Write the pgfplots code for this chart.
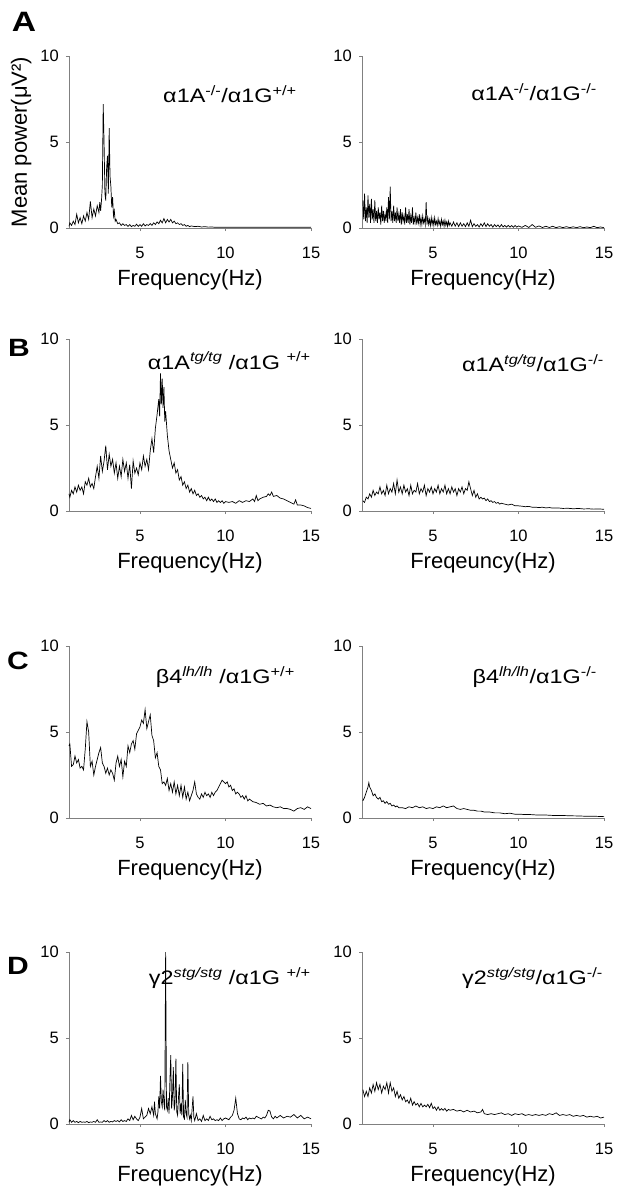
\documentclass[border=0pt]{standalone}
\usepackage{fontspec}
\setmainfont{Liberation Sans}
\newfontfamily\widefont{Liberation Sans}[FakeStretch=1.2]
\usepackage{pgfplots}
\pgfplotsset{compat=1.18}
\definecolor{axgray}{gray}{0.5}
\pgfplotsset{panel/.style={
  scale only axis, width=242pt, height=172pt,
  xmin=0.85, xmax=15, ymin=0, ymax=10,
  axis lines=left, axis line style={-, draw=axgray, line width=0.7pt},
  xtick={5,10,15}, ytick={0,5,10},
  tick align=outside, major tick length=3pt, tick style={draw=axgray, line width=0.6pt},
  /pgf/number format/assume math mode=true,
  tick label style={font=\fontsize{16.5}{17}\selectfont, text=black},
  xticklabel style={anchor=base, inner sep=0pt},
  xticklabel shift=27pt,
  yticklabel style={anchor=east, inner sep=0pt, xshift=-7pt},
  xlabel style={at={(axis description cs:0.5,0)}, anchor=base, yshift=-57pt, font=\fontsize{22}{24}\selectfont, inner sep=0pt},
  xlabel={Frequency(Hz)},
  clip=false,
  every axis plot post/.append style={black, line width=0.7pt, mark=none},
}}
\tikzset{ttl/.style={anchor=east, inner sep=0pt, font=\widefont\fontsize{19.5}{22}\selectfont},
lett/.style={inner sep=0pt, font=\widefont\bfseries\fontsize{25}{28}\selectfont}}
\begin{document}
\begin{tikzpicture}
\useasboundingbox (0,0) rectangle (620pt,-1200pt);
% ---------------- A left
\begin{axis}[panel, at={(69pt,-228pt)}, anchor=south west]
\addplot table {
0.85 0.1
0.9 0.3
1.0 0.15
1.1 0.4
1.2 0.2
1.3 0.8
1.4 0.3
1.5 0.6
1.6 0.25
1.7 0.7
1.8 0.4
1.9 0.9
2.0 0.5
2.1 1.55
2.2 0.6
2.3 1.1
2.4 0.7
2.5 1.3
2.6 0.9
2.65 1.5
2.7 1.0
2.75 1.6
2.8 2.5
2.85 7.2
2.9 5.0
2.95 2.0
3.0 1.6
3.05 3.5
3.1 4.2
3.15 2.0
3.2 5.8
3.25 3.0
3.3 2.4
3.35 1.2
3.4 1.8
3.45 0.7
3.5 1.0
3.55 0.4
3.6 0.5
3.7 0.25
3.8 0.3
3.9 0.15
4.0 0.25
4.1 0.15
4.2 0.2
4.3 0.1
4.4 0.2
4.5 0.08
4.6 0.15
4.7 0.1
4.8 0.22
4.9 0.1
5.0 0.2
5.1 0.1
5.2 0.25
5.3 0.12
5.4 0.2
5.5 0.15
5.6 0.25
5.7 0.15
5.8 0.3
5.9 0.2
6.0 0.35
6.1 0.25
6.2 0.45
6.3 0.3
6.4 0.55
6.5 0.3
6.6 0.5
6.7 0.35
6.8 0.5
6.9 0.3
7.0 0.4
7.1 0.25
7.2 0.3
7.3 0.2
7.4 0.25
7.5 0.15
7.6 0.2
7.7 0.1
7.8 0.15
7.9 0.08
8.0 0.12
8.2 0.08
8.4 0.1
8.6 0.06
8.8 0.08
9.0 0.05
9.2 0.06
9.4 0.04
9.6 0.05
9.8 0.04
10.0 0.05
10.4 0.04
10.8 0.05
11.2 0.04
11.6 0.05
12.0 0.04
12.4 0.05
12.8 0.04
13.2 0.05
13.6 0.04
14.0 0.05
14.4 0.04
14.8 0.05
15.0 0.04
};
\node[ttl] at (rel axis cs:0.942,0.779) {α1A\textsuperscript{-/-}/α1G\textsuperscript{+/+}};
\node[lett, font=\widefont\bfseries\fontsize{28}{30}\selectfont] at (rel axis cs:-0.186,1.198) {A};
\node[rotate=90, inner sep=0pt, font=\fontsize{22}{24}\selectfont] at (rel axis cs:-0.198,0.5) {Mean power(μV²)};
\end{axis}
% ---------------- A right
\begin{axis}[panel, at={(362pt,-228pt)}, anchor=south west]
\addplot table {
0.90 1.6
0.95 0.5
1.00 2.0
1.05 0.4
1.10 1.2
1.15 0.3
1.20 1.9
1.25 0.6
1.30 1.4
1.35 0.3
1.40 1.7
1.45 0.5
1.50 1.1
1.55 0.3
1.60 1.6
1.65 0.4
1.70 1.0
1.75 0.3
1.80 1.2
1.85 0.5
1.90 0.9
1.95 0.2
2.00 1.3
2.05 0.4
2.10 1.0
2.15 0.3
2.20 0.8
2.25 0.4
2.30 1.2
2.35 0.3
2.40 1.8
2.45 0.5
2.50 2.4
2.55 0.4
2.60 1.0
2.65 0.3
2.70 1.3
2.75 0.4
2.80 0.9
2.85 0.3
2.90 1.2
2.95 0.4
3.00 0.8
3.05 0.3
3.10 1.1
3.15 0.2
3.20 0.9
3.25 0.4
3.30 0.7
3.35 0.2
3.40 1.2
3.45 0.3
3.50 0.8
3.55 0.3
3.60 1.1
3.65 0.2
3.70 0.7
3.75 0.3
3.80 1.2
3.85 0.2
3.90 0.6
3.95 0.3
4.00 0.9
4.05 0.2
4.10 0.6
4.15 0.3
4.20 0.8
4.25 0.2
4.30 0.6
4.35 0.2
4.40 0.7
4.45 0.3
4.50 0.5
4.55 0.2
4.60 1.5
4.65 0.2
4.70 0.6
4.75 0.2
4.80 0.5
4.85 0.15
4.90 0.6
4.95 0.2
5.00 0.5
5.05 0.15
5.10 0.6
5.15 0.2
5.20 0.4
5.25 0.15
5.30 0.55
5.35 0.2
5.40 0.4
5.45 0.1
5.50 0.5
5.55 0.2
5.60 0.4
5.65 0.1
5.70 0.45
5.75 0.15
5.80 0.35
5.85 0.1
5.90 0.4
5.95 0.15
6.00 0.3
6.1 0.1
6.2 0.35
6.3 0.1
6.4 0.3
6.5 0.08
6.6 0.3
6.7 0.1
6.8 0.25
6.9 0.08
7.0 0.3
7.1 0.1
7.2 0.45
7.3 0.08
7.4 0.25
7.5 0.1
7.6 0.2
7.7 0.06
7.8 0.25
7.9 0.1
8.0 0.3
8.1 0.08
8.2 0.25
8.3 0.1
8.4 0.2
8.5 0.05
8.6 0.2
8.7 0.08
8.8 0.18
8.9 0.05
9.0 0.2
9.1 0.06
9.2 0.15
9.3 0.05
9.4 0.15
9.5 0.05
9.6 0.14
9.7 0.04
9.8 0.15
9.9 0.05
10.0 0.12
10.2 0.04
10.4 0.15
10.6 0.03
10.8 0.2
11.0 0.04
11.2 0.12
11.4 0.03
11.6 0.1
11.8 0.03
12.0 0.1
12.2 0.02
12.4 0.08
12.6 0.02
12.8 0.08
13.0 0.02
13.2 0.07
13.4 0.02
13.6 0.08
13.8 0.02
14.0 0.06
14.2 0.02
14.4 0.1
14.6 0.02
14.8 0.06
15.0 0.02
};
\node[ttl] at (rel axis cs:0.971,0.79) {α1A\textsuperscript{-/-}/α1G\textsuperscript{-/-}};
\end{axis}
% ---------------- B left
\begin{axis}[panel, at={(69pt,-511pt)}, anchor=south west]
\addplot table {
0.85 1.0
0.9 0.8
1.0 1.2
1.1 1.0
1.2 1.4
1.3 1.1
1.4 1.5
1.5 1.2
1.6 1.4
1.7 1.0
1.8 1.7
1.9 1.5
2.0 1.9
2.1 1.4
2.2 1.6
2.3 1.3
2.4 2.0
2.5 2.6
2.6 1.9
2.7 3.2
2.8 2.3
2.9 2.9
3.0 3.8
3.1 2.4
3.2 3.3
3.3 2.6
3.4 3.0
3.5 2.2
3.6 2.8
3.7 1.9
3.8 2.6
3.9 2.0
4.0 3.0
4.1 2.3
4.2 2.8
4.3 1.9
4.4 2.7
4.5 1.3
4.6 2.9
4.7 2.2
4.8 2.5
4.9 2.1
5.0 2.8
5.1 2.4
5.2 3.2
5.3 2.6
5.4 3.0
5.5 2.4
5.6 3.5
5.7 4.2
5.8 3.4
5.9 4.8
6.0 5.6
6.1 6.5
6.15 5.5
6.2 8.0
6.25 6.2
6.3 7.7
6.35 6.0
6.4 7.2
6.45 5.2
6.5 5.8
6.6 4.4
6.7 3.5
6.8 3.0
6.9 2.5
7.0 2.8
7.1 2.2
7.2 2.4
7.3 1.8
7.4 2.0
7.5 1.5
7.6 1.7
7.7 1.3
7.8 1.5
7.9 1.1
8.0 1.3
8.1 1.0
8.2 1.2
8.3 0.9
8.4 1.0
8.5 0.8
8.6 0.9
8.7 0.7
8.8 0.8
8.9 0.6
9.0 0.8
9.1 0.6
9.2 0.7
9.3 0.55
9.4 0.7
9.5 0.5
9.6 0.6
9.7 0.5
9.8 0.6
9.9 0.45
10.0 0.55
10.2 0.5
10.4 0.55
10.6 0.45
10.8 0.6
11.0 0.5
11.2 0.6
11.4 0.55
11.6 0.7
11.7 0.55
11.8 0.9
11.9 0.6
12.0 0.7
12.2 0.8
12.4 0.85
12.5 1.0
12.6 0.9
12.7 1.1
12.8 0.85
13.0 0.9
13.2 0.75
13.4 0.7
13.6 0.6
13.8 0.5
14.0 0.4
14.1 0.65
14.2 0.35
14.4 0.35
14.6 0.3
14.8 0.2
15.0 0.15
};
\node[ttl] at (rel axis cs:1.0,0.873) {α1A\textsuperscript{\itshape tg/tg} /α1G \textsuperscript{+/+}};
\node[lett] at (rel axis cs:-0.207,0.948) {B};
\end{axis}
% ---------------- B right
\begin{axis}[panel, at={(362pt,-511pt)}, anchor=south west, xlabel={Freqeuncy(Hz)}]
\addplot table {
0.9 0.6
1.0 0.5
1.1 0.8
1.2 0.7
1.3 1.0
1.4 0.8
1.5 1.2
1.6 0.9
1.7 1.1
1.8 1.0
1.9 1.4
2.0 1.0
2.1 1.2
2.2 0.9
2.3 1.5
2.4 1.0
2.5 1.3
2.6 1.1
2.7 1.6
2.8 1.0
2.9 1.8
3.0 1.1
3.1 1.4
3.2 1.0
3.3 1.5
3.4 1.1
3.5 1.3
3.6 0.9
3.7 1.5
3.8 1.0
3.9 1.2
4.0 1.1
4.1 1.6
4.2 1.0
4.3 1.3
4.4 1.1
4.5 1.5
4.6 0.9
4.7 1.3
4.8 1.1
4.9 1.4
5.0 1.0
5.1 1.3
5.2 1.1
5.3 1.5
5.4 1.0
5.5 1.3
5.6 1.1
5.7 1.5
5.8 1.0
5.9 1.3
6.0 1.0
6.1 1.4
6.2 1.1
6.3 1.3
6.4 0.9
6.5 1.3
6.6 1.1
6.7 1.4
6.8 1.0
6.9 1.3
7.0 1.2
7.1 1.7
7.2 1.3
7.3 0.9
7.4 1.2
7.5 0.8
7.6 1.0
7.7 0.7
7.8 0.8
7.9 0.7
8.0 0.75
8.1 0.6
8.2 0.7
8.3 0.55
8.4 0.6
8.5 0.5
8.6 0.55
8.7 0.45
8.8 0.5
8.9 0.4
9.0 0.45
9.2 0.4
9.4 0.35
9.6 0.4
9.8 0.3
10.0 0.3
10.2 0.28
10.4 0.25
10.6 0.27
10.8 0.22
11.0 0.22
11.2 0.2
11.4 0.22
11.6 0.18
11.8 0.2
12.0 0.17
12.3 0.18
12.6 0.15
12.9 0.16
13.2 0.13
13.5 0.15
13.8 0.12
14.1 0.13
14.4 0.11
14.7 0.12
15.0 0.1
};
\node[ttl] at (rel axis cs:1.0,0.86) {α1A\textsuperscript{\itshape tg/tg}/α1G\textsuperscript{-/-}};
\end{axis}
% ---------------- C left
\begin{axis}[panel, at={(69pt,-818pt)}, anchor=south west]
\addplot table {
0.85 4.2
0.9 4.3
1.0 3.0
1.1 3.1
1.2 3.6
1.3 3.2
1.4 3.4
1.5 2.9
1.6 3.0
1.7 2.8
1.8 4.0
1.9 5.6
2.0 5.0
2.1 3.0
2.2 3.3
2.3 2.5
2.4 3.0
2.5 3.4
2.6 3.8
2.7 4.1
2.8 3.2
2.9 3.0
3.0 2.6
3.1 2.9
3.2 2.5
3.3 2.8
3.4 2.6
3.5 2.2
3.6 3.2
3.7 3.6
3.8 3.0
3.9 3.4
4.0 2.4
4.1 3.3
4.2 3.0
4.3 4.2
4.4 3.8
4.5 4.3
4.6 4.5
4.7 4.0
4.8 4.9
4.9 5.1
5.0 5.3
5.1 5.7
5.2 5.5
5.3 6.3
5.4 5.2
5.5 5.6
5.6 6.0
5.7 4.8
5.8 4.5
5.9 3.5
6.0 3.8
6.1 3.0
6.2 2.8
6.3 2.0
6.4 2.1
6.5 1.9
6.6 2.3
6.7 1.6
6.8 2.0
6.9 1.5
7.0 2.1
7.1 1.4
7.2 1.9
7.3 1.3
7.4 1.9
7.5 1.2
7.6 1.8
7.7 1.1
7.8 1.5
7.9 1.0
8.0 1.3
8.1 1.6
8.2 2.1
8.3 1.4
8.4 1.2
8.5 1.1
8.6 1.4
8.7 1.2
8.8 1.5
8.9 1.3
9.0 1.4
9.1 1.2
9.2 1.5
9.3 1.3
9.4 1.5
9.5 1.6
9.6 1.8
9.7 2.0
9.8 2.2
9.9 2.1
10.0 2.0
10.1 2.1
10.2 1.8
10.3 1.9
10.4 1.6
10.5 1.7
10.6 1.4
10.7 1.5
10.8 1.4
10.9 1.2
11.0 1.3
11.1 1.1
11.2 1.3
11.3 1.0
11.4 1.1
11.6 0.95
11.8 0.9
12.0 0.8
12.2 0.85
12.4 0.7
12.6 0.75
12.8 0.65
13.0 0.6
13.2 0.65
13.4 0.55
13.6 0.55
13.8 0.5
14.0 0.4
14.2 0.55
14.4 0.6
14.6 0.5
14.8 0.65
15.0 0.55
};
\node[ttl] at (rel axis cs:0.934,0.82) {β4\textsuperscript{\itshape lh/lh} /α1G\textsuperscript{+/+}};
\node[lett] at (rel axis cs:-0.211,0.914) {C};
\end{axis}
% ---------------- C right
\begin{axis}[panel, at={(362pt,-818pt)}, anchor=south west]
\addplot table {
0.9 1.0
1.0 1.2
1.1 1.5
1.2 1.8
1.25 2.05
1.3 1.8
1.4 1.6
1.5 1.3
1.6 1.4
1.7 1.2
1.8 1.1
1.9 1.2
2.0 0.95
2.1 1.0
2.2 0.85
2.3 0.95
2.4 0.8
2.5 0.85
2.6 0.7
2.7 0.75
2.8 0.65
2.9 0.7
3.0 0.6
3.2 0.6
3.4 0.55
3.6 0.65
3.8 0.6
4.0 0.7
4.2 0.6
4.4 0.65
4.6 0.55
4.8 0.6
5.0 0.55
5.2 0.65
5.4 0.6
5.6 0.7
5.8 0.6
6.0 0.65
6.2 0.7
6.4 0.55
6.6 0.5
6.8 0.55
7.0 0.5
7.2 0.45
7.4 0.45
7.6 0.4
7.8 0.4
8.0 0.35
8.3 0.35
8.6 0.3
8.9 0.3
9.2 0.25
9.5 0.28
9.8 0.22
10.1 0.22
10.4 0.2
10.7 0.2
11.0 0.18
11.5 0.18
12.0 0.15
12.5 0.15
13.0 0.13
13.5 0.12
14.0 0.1
14.5 0.1
15.0 0.08
};
\node[ttl] at (rel axis cs:0.971,0.82) {β4\textsuperscript{\itshape lh/lh}/α1G\textsuperscript{-/-}};
\end{axis}
% ---------------- D left
\begin{axis}[panel, at={(69pt,-1124pt)}, anchor=south west]
\addplot table {
0.85 0.1
0.9 0.25
1.0 0.1
1.1 0.2
1.2 0.1
1.3 0.15
1.4 0.08
1.5 0.15
1.6 0.1
1.7 0.12
1.8 0.1
1.9 0.15
2.0 0.08
2.1 0.12
2.2 0.1
2.3 0.15
2.4 0.1
2.5 0.25
2.6 0.1
2.7 0.12
2.8 0.1
2.9 0.2
3.0 0.12
3.1 0.2
3.2 0.1
3.3 0.15
3.4 0.12
3.5 0.2
3.6 0.15
3.7 0.2
3.8 0.12
3.9 0.25
4.0 0.15
4.1 0.2
4.2 0.15
4.3 0.3
4.4 0.2
4.5 0.5
4.6 0.25
4.7 0.45
4.8 0.3
4.9 0.2
5.0 0.4
5.1 0.9
5.2 0.3
5.3 0.4
5.4 0.5
5.5 0.9
5.6 0.6
5.7 1.0
5.8 0.5
5.85 1.3
5.9 0.6
6.0 0.3
6.05 0.7
6.1 1.6
6.15 0.9
6.2 2.8
6.25 1.3
6.3 1.0
6.35 2.0
6.4 1.2
6.45 0.8
6.5 10.0
6.55 1.0
6.6 0.8
6.65 1.5
6.7 0.6
6.75 2.5
6.8 4.0
6.85 0.9
6.9 1.6
6.95 3.3
7.0 0.8
7.05 1.2
7.1 3.8
7.15 0.7
7.2 0.5
7.25 1.5
7.3 2.3
7.35 0.6
7.4 1.2
7.45 0.5
7.5 3.5
7.55 0.4
7.6 0.3
7.65 1.4
7.7 0.6
7.75 0.4
7.8 3.6
7.85 0.6
7.9 0.3
7.95 0.5
8.0 0.2
8.05 0.9
8.1 1.6
8.15 0.4
8.2 0.2
8.3 0.6
8.4 0.2
8.5 0.3
8.6 0.15
8.7 0.5
8.8 0.2
8.9 0.3
9.0 0.2
9.1 0.45
9.2 0.25
9.3 0.3
9.4 0.2
9.5 0.25
9.6 0.2
9.7 0.35
9.8 0.2
9.9 0.3
10.0 0.35
10.1 0.3
10.2 0.25
10.3 0.4
10.4 0.5
10.5 0.8
10.6 1.5
10.7 0.6
10.8 0.3
10.9 0.25
11.0 0.35
11.1 0.3
11.2 0.4
11.3 0.25
11.4 0.35
11.5 0.3
11.6 0.35
11.7 0.3
11.8 0.45
11.9 0.4
12.0 0.35
12.1 0.3
12.2 0.4
12.3 0.35
12.4 0.5
12.5 0.8
12.6 0.75
12.7 0.4
12.8 0.3
12.9 0.45
13.0 0.35
13.2 0.5
13.4 0.35
13.6 0.45
13.8 0.4
14.0 0.55
14.2 0.35
14.4 0.5
14.6 0.3
14.8 0.4
15.0 0.3
};
\node[ttl] at (rel axis cs:1.0,0.849) {γ2\textsuperscript{\itshape stg/stg} /α1G \textsuperscript{+/+}};
\node[lett] at (rel axis cs:-0.211,0.919) {D};
\end{axis}
% ---------------- D right
\begin{axis}[panel, at={(362pt,-1124pt)}, anchor=south west]
\addplot table {
0.9 2.0
1.0 1.6
1.1 1.9
1.2 1.6
1.3 2.1
1.4 1.8
1.5 2.3
1.6 1.9
1.7 2.4
1.8 2.0
1.9 2.3
2.0 1.8
2.1 2.2
2.2 2.0
2.3 2.4
2.4 1.8
2.5 2.4
2.6 1.9
2.7 2.1
2.8 1.6
2.9 1.9
3.0 1.5
3.1 1.7
3.2 1.4
3.3 1.6
3.4 1.3
3.5 1.4
3.6 1.2
3.7 1.5
3.8 1.1
3.9 1.3
4.0 1.1
4.1 1.2
4.2 1.0
4.3 1.2
4.4 1.0
4.5 1.1
4.6 1.0
4.7 1.15
4.8 0.95
4.9 1.2
5.0 0.9
5.1 1.0
5.2 0.8
5.3 1.0
5.4 0.8
5.5 0.9
5.6 0.8
5.7 0.9
5.8 0.75
5.9 0.85
6.0 0.8
6.2 0.85
6.4 0.75
6.6 0.8
6.8 0.7
7.0 0.8
7.2 0.7
7.4 0.75
7.6 0.65
7.8 0.7
7.9 0.85
8.0 0.6
8.2 0.55
8.4 0.6
8.6 0.55
8.8 0.6
9.0 0.65
9.2 0.55
9.4 0.6
9.6 0.5
9.8 0.6
10.0 0.55
10.2 0.6
10.4 0.5
10.6 0.55
10.8 0.5
11.0 0.55
11.2 0.5
11.4 0.55
11.6 0.5
11.8 0.6
12.0 0.55
12.2 0.65
12.4 0.5
12.6 0.55
12.8 0.5
13.0 0.55
13.2 0.45
13.4 0.5
13.6 0.45
13.8 0.5
14.0 0.4
14.2 0.45
14.4 0.4
14.6 0.45
14.8 0.35
15.0 0.4
};
\node[ttl] at (rel axis cs:0.996,0.849) {γ2\textsuperscript{\itshape stg/stg}/α1G\textsuperscript{-/-}};
\end{axis}
\end{tikzpicture}
\end{document}
